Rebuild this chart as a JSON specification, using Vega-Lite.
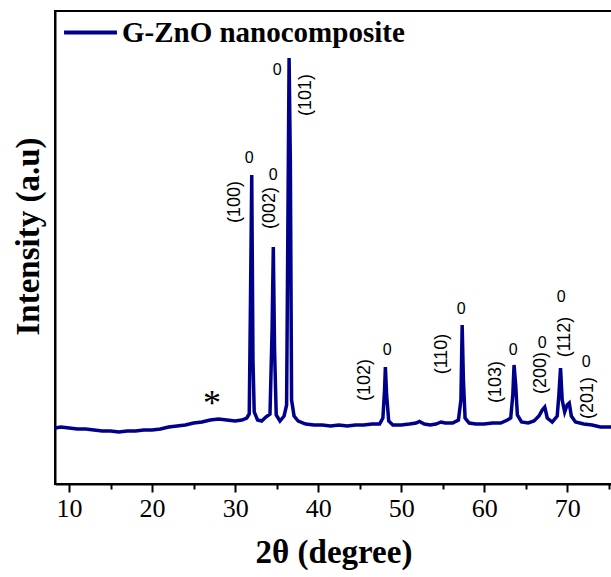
{
  "$schema": "https://vega.github.io/schema/vega-lite/v6.json",
  "width": 557,
  "height": 473,
  "autosize": {"type": "none"},
  "padding": {"left": 55, "top": 11, "right": 0, "bottom": 93},
  "background": "white",
  "config": {
    "view": {"stroke": "black", "strokeWidth": 2},
    "font": "Liberation Serif"
  },
  "datasets": {
    "xrd": [
      {"t": 8.3, "i": 560, "s": "G-ZnO nanocomposite"},
      {"t": 9, "i": 570, "s": "G-ZnO nanocomposite"},
      {"t": 10, "i": 560, "s": "G-ZnO nanocomposite"},
      {"t": 11, "i": 550, "s": "G-ZnO nanocomposite"},
      {"t": 12, "i": 550, "s": "G-ZnO nanocomposite"},
      {"t": 13, "i": 540, "s": "G-ZnO nanocomposite"},
      {"t": 14, "i": 530, "s": "G-ZnO nanocomposite"},
      {"t": 15, "i": 530, "s": "G-ZnO nanocomposite"},
      {"t": 16, "i": 520, "s": "G-ZnO nanocomposite"},
      {"t": 17, "i": 530, "s": "G-ZnO nanocomposite"},
      {"t": 18, "i": 530, "s": "G-ZnO nanocomposite"},
      {"t": 19, "i": 540, "s": "G-ZnO nanocomposite"},
      {"t": 20, "i": 540, "s": "G-ZnO nanocomposite"},
      {"t": 21, "i": 550, "s": "G-ZnO nanocomposite"},
      {"t": 22, "i": 570, "s": "G-ZnO nanocomposite"},
      {"t": 23, "i": 580, "s": "G-ZnO nanocomposite"},
      {"t": 24, "i": 590, "s": "G-ZnO nanocomposite"},
      {"t": 25, "i": 610, "s": "G-ZnO nanocomposite"},
      {"t": 26, "i": 620, "s": "G-ZnO nanocomposite"},
      {"t": 27, "i": 640, "s": "G-ZnO nanocomposite"},
      {"t": 28, "i": 650, "s": "G-ZnO nanocomposite"},
      {"t": 29, "i": 640, "s": "G-ZnO nanocomposite"},
      {"t": 30, "i": 630, "s": "G-ZnO nanocomposite"},
      {"t": 30.8, "i": 640, "s": "G-ZnO nanocomposite"},
      {"t": 31.4, "i": 660, "s": "G-ZnO nanocomposite"},
      {"t": 31.7, "i": 700, "s": "G-ZnO nanocomposite"},
      {"t": 31.85, "i": 1840, "s": "G-ZnO nanocomposite"},
      {"t": 32.0, "i": 3090, "s": "G-ZnO nanocomposite"},
      {"t": 32.15, "i": 1240, "s": "G-ZnO nanocomposite"},
      {"t": 32.3, "i": 720, "s": "G-ZnO nanocomposite"},
      {"t": 32.7, "i": 640, "s": "G-ZnO nanocomposite"},
      {"t": 33.2, "i": 630, "s": "G-ZnO nanocomposite"},
      {"t": 33.7, "i": 670, "s": "G-ZnO nanocomposite"},
      {"t": 34.2, "i": 700, "s": "G-ZnO nanocomposite"},
      {"t": 34.45, "i": 1540, "s": "G-ZnO nanocomposite"},
      {"t": 34.6, "i": 2370, "s": "G-ZnO nanocomposite"},
      {"t": 34.75, "i": 1340, "s": "G-ZnO nanocomposite"},
      {"t": 34.95, "i": 690, "s": "G-ZnO nanocomposite"},
      {"t": 35.4, "i": 630, "s": "G-ZnO nanocomposite"},
      {"t": 35.9, "i": 680, "s": "G-ZnO nanocomposite"},
      {"t": 36.2, "i": 790, "s": "G-ZnO nanocomposite"},
      {"t": 36.35, "i": 2540, "s": "G-ZnO nanocomposite"},
      {"t": 36.5, "i": 4260, "s": "G-ZnO nanocomposite"},
      {"t": 36.65, "i": 3240, "s": "G-ZnO nanocomposite"},
      {"t": 36.8, "i": 840, "s": "G-ZnO nanocomposite"},
      {"t": 37.1, "i": 680, "s": "G-ZnO nanocomposite"},
      {"t": 37.6, "i": 630, "s": "G-ZnO nanocomposite"},
      {"t": 38.5, "i": 600, "s": "G-ZnO nanocomposite"},
      {"t": 39.5, "i": 590, "s": "G-ZnO nanocomposite"},
      {"t": 40.5, "i": 590, "s": "G-ZnO nanocomposite"},
      {"t": 41.5, "i": 580, "s": "G-ZnO nanocomposite"},
      {"t": 42.5, "i": 590, "s": "G-ZnO nanocomposite"},
      {"t": 43.5, "i": 580, "s": "G-ZnO nanocomposite"},
      {"t": 44.5, "i": 590, "s": "G-ZnO nanocomposite"},
      {"t": 45.5, "i": 590, "s": "G-ZnO nanocomposite"},
      {"t": 46.5, "i": 600, "s": "G-ZnO nanocomposite"},
      {"t": 47.4, "i": 600, "s": "G-ZnO nanocomposite"},
      {"t": 47.8, "i": 660, "s": "G-ZnO nanocomposite"},
      {"t": 48.0, "i": 940, "s": "G-ZnO nanocomposite"},
      {"t": 48.1, "i": 1170, "s": "G-ZnO nanocomposite"},
      {"t": 48.25, "i": 890, "s": "G-ZnO nanocomposite"},
      {"t": 48.5, "i": 630, "s": "G-ZnO nanocomposite"},
      {"t": 49.0, "i": 590, "s": "G-ZnO nanocomposite"},
      {"t": 50.0, "i": 590, "s": "G-ZnO nanocomposite"},
      {"t": 51.0, "i": 600, "s": "G-ZnO nanocomposite"},
      {"t": 51.8, "i": 610, "s": "G-ZnO nanocomposite"},
      {"t": 52.2, "i": 625, "s": "G-ZnO nanocomposite"},
      {"t": 52.8, "i": 600, "s": "G-ZnO nanocomposite"},
      {"t": 53.5, "i": 590, "s": "G-ZnO nanocomposite"},
      {"t": 54.2, "i": 600, "s": "G-ZnO nanocomposite"},
      {"t": 54.8, "i": 620, "s": "G-ZnO nanocomposite"},
      {"t": 55.3, "i": 610, "s": "G-ZnO nanocomposite"},
      {"t": 56.2, "i": 610, "s": "G-ZnO nanocomposite"},
      {"t": 56.9, "i": 640, "s": "G-ZnO nanocomposite"},
      {"t": 57.2, "i": 840, "s": "G-ZnO nanocomposite"},
      {"t": 57.35, "i": 1590, "s": "G-ZnO nanocomposite"},
      {"t": 57.5, "i": 1040, "s": "G-ZnO nanocomposite"},
      {"t": 57.7, "i": 660, "s": "G-ZnO nanocomposite"},
      {"t": 58.2, "i": 610, "s": "G-ZnO nanocomposite"},
      {"t": 59, "i": 600, "s": "G-ZnO nanocomposite"},
      {"t": 60, "i": 600, "s": "G-ZnO nanocomposite"},
      {"t": 61, "i": 610, "s": "G-ZnO nanocomposite"},
      {"t": 62, "i": 610, "s": "G-ZnO nanocomposite"},
      {"t": 62.8, "i": 640, "s": "G-ZnO nanocomposite"},
      {"t": 63.2, "i": 660, "s": "G-ZnO nanocomposite"},
      {"t": 63.45, "i": 890, "s": "G-ZnO nanocomposite"},
      {"t": 63.6, "i": 1190, "s": "G-ZnO nanocomposite"},
      {"t": 63.8, "i": 990, "s": "G-ZnO nanocomposite"},
      {"t": 64.0, "i": 690, "s": "G-ZnO nanocomposite"},
      {"t": 64.5, "i": 620, "s": "G-ZnO nanocomposite"},
      {"t": 65.3, "i": 610, "s": "G-ZnO nanocomposite"},
      {"t": 66.0, "i": 630, "s": "G-ZnO nanocomposite"},
      {"t": 66.6, "i": 680, "s": "G-ZnO nanocomposite"},
      {"t": 67.0, "i": 740, "s": "G-ZnO nanocomposite"},
      {"t": 67.3, "i": 770, "s": "G-ZnO nanocomposite"},
      {"t": 67.6, "i": 660, "s": "G-ZnO nanocomposite"},
      {"t": 68.2, "i": 620, "s": "G-ZnO nanocomposite"},
      {"t": 68.8, "i": 680, "s": "G-ZnO nanocomposite"},
      {"t": 69.0, "i": 890, "s": "G-ZnO nanocomposite"},
      {"t": 69.2, "i": 1160, "s": "G-ZnO nanocomposite"},
      {"t": 69.4, "i": 840, "s": "G-ZnO nanocomposite"},
      {"t": 69.7, "i": 720, "s": "G-ZnO nanocomposite"},
      {"t": 70.0, "i": 790, "s": "G-ZnO nanocomposite"},
      {"t": 70.25, "i": 810, "s": "G-ZnO nanocomposite"},
      {"t": 70.5, "i": 680, "s": "G-ZnO nanocomposite"},
      {"t": 71.0, "i": 620, "s": "G-ZnO nanocomposite"},
      {"t": 72.0, "i": 600, "s": "G-ZnO nanocomposite"},
      {"t": 73.0, "i": 590, "s": "G-ZnO nanocomposite"},
      {"t": 74.0, "i": 570, "s": "G-ZnO nanocomposite"},
      {"t": 75.3, "i": 570, "s": "G-ZnO nanocomposite"}
    ],
    "minor": [
      {"t": 15, "i": 0}, {"t": 25, "i": 0}, {"t": 35, "i": 0}, {"t": 45, "i": 0},
      {"t": 55, "i": 0}, {"t": 65, "i": 0}, {"t": 75, "i": 0}
    ],
    "hkl": [
      {"t": 30.0, "i": 2820, "txt": "(100)"},
      {"t": 34.22, "i": 2760, "txt": "(002)"},
      {"t": 38.55, "i": 3890, "txt": "(101)"},
      {"t": 45.66, "i": 1040, "txt": "(102)"},
      {"t": 54.94, "i": 1300, "txt": "(110)"},
      {"t": 61.45, "i": 1020, "txt": "(103)"},
      {"t": 66.87, "i": 1110, "txt": "(200)"},
      {"t": 69.76, "i": 1470, "txt": "(112)"},
      {"t": 72.53, "i": 860, "txt": "(201)"}
    ],
    "marks": [
      {"t": 31.69, "i": 3260, "txt": "0"},
      {"t": 34.58, "i": 3090, "txt": "0"},
      {"t": 35.06, "i": 4140, "txt": "0"},
      {"t": 48.31, "i": 1340, "txt": "0"},
      {"t": 57.23, "i": 1750, "txt": "0"},
      {"t": 63.49, "i": 1340, "txt": "0"},
      {"t": 66.99, "i": 1410, "txt": "0"},
      {"t": 69.28, "i": 1870, "txt": "0"},
      {"t": 72.29, "i": 1220, "txt": "0"}
    ],
    "star": [
      {"t": 27.2, "i": 800, "txt": "*"}
    ]
  },
  "resolve": {"axis": {"x": "independent"}},
  "layer": [
    {
      "data": {"name": "xrd"},
      "mark": {"type": "line", "strokeWidth": 3.5, "clip": true},
      "encoding": {
        "x": {
          "field": "t", "type": "quantitative",
          "scale": {"domain": [8.3, 75.4], "nice": false, "zero": false},
          "axis": {
            "orient": "bottom",
            "values": [10, 20, 30, 40, 50, 60, 70],
            "title": "2θ (degree)",
            "titleFont": "Liberation Serif", "titleFontSize": 33, "titleFontWeight": "bold",
            "titleColor": "black", "titlePadding": 15,
            "labelFont": "Liberation Serif", "labelFontSize": 26, "labelColor": "black",
            "labelPadding": 3,
            "tickSize": 8, "tickWidth": 2, "tickColor": "black",
            "domainColor": "black", "domainWidth": 2,
            "grid": false
          }
        },
        "y": {
          "field": "i", "type": "quantitative",
          "scale": {"domain": [0, 4730], "nice": false},
          "axis": {
            "title": "Intensity (a.u)",
            "titleFont": "Liberation Serif", "titleFontSize": 33, "titleFontWeight": "bold",
            "titleColor": "black", "titlePadding": 10, "titleY": 225,
            "labels": false, "ticks": false, "grid": false,
            "domainColor": "black", "domainWidth": 2
          }
        },
        "color": {
          "field": "s", "type": "nominal",
          "scale": {"range": ["#00008B"]},
          "legend": {
            "orient": "none", "legendX": 7, "legendY": -7, "title": null,
            "symbolType": "stroke", "symbolSize": 2800, "symbolStrokeWidth": 4,
            "labelFont": "Liberation Serif", "labelFontSize": 29, "labelFontWeight": "bold",
            "labelColor": "black", "labelOffset": 3, "labelLimit": 0, "padding": 0
          }
        }
      }
    },
    {
      "data": {"name": "minor"},
      "mark": {"type": "point", "opacity": 0},
      "encoding": {
        "x": {
          "field": "t", "type": "quantitative",
          "axis": {
            "orient": "bottom", "values": [15, 25, 35, 45, 55, 65, 75],
            "labels": false, "title": null, "domain": false, "grid": false,
            "tickSize": 5, "tickWidth": 2, "tickColor": "black"
          }
        },
        "y": {"field": "i", "type": "quantitative"}
      }
    },
    {
      "data": {"name": "hkl"},
      "mark": {"type": "text", "angle": 270, "font": "Liberation Sans", "fontSize": 18, "align": "center", "baseline": "middle", "color": "black"},
      "encoding": {
        "x": {"field": "t", "type": "quantitative", "axis": null},
        "y": {"field": "i", "type": "quantitative"},
        "text": {"field": "txt"}
      }
    },
    {
      "data": {"name": "marks"},
      "mark": {"type": "text", "font": "Liberation Sans", "fontSize": 16, "align": "center", "baseline": "middle", "color": "black"},
      "encoding": {
        "x": {"field": "t", "type": "quantitative", "axis": null},
        "y": {"field": "i", "type": "quantitative"},
        "text": {"field": "txt"}
      }
    },
    {
      "data": {"name": "star"},
      "mark": {"type": "text", "font": "Liberation Serif", "fontSize": 36, "align": "center", "baseline": "middle", "color": "black"},
      "encoding": {
        "x": {"field": "t", "type": "quantitative", "axis": null},
        "y": {"field": "i", "type": "quantitative"},
        "text": {"field": "txt"}
      }
    }
  ]
}
